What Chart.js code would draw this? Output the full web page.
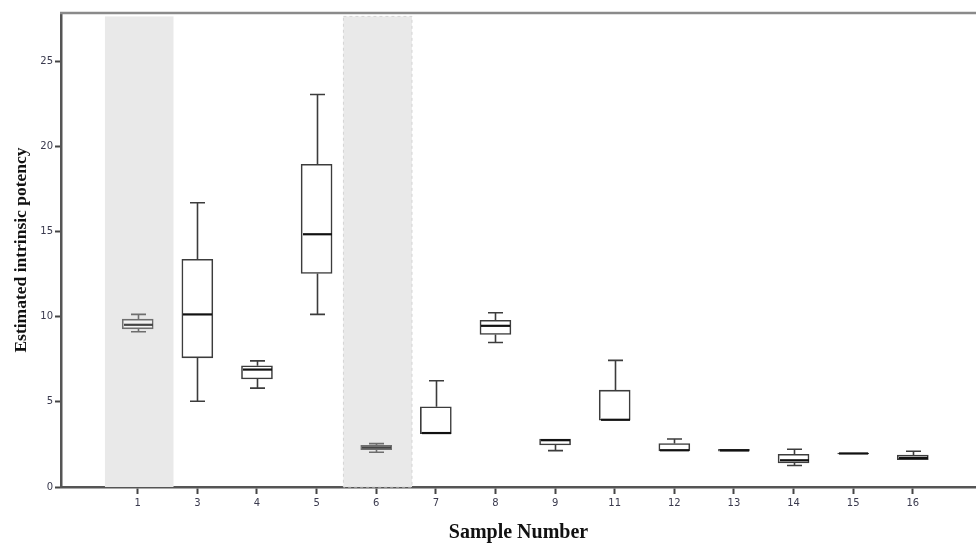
<!DOCTYPE html>
<html>
<head>
<meta charset="utf-8">
<script src="https://cdn.jsdelivr.net/npm/chart.js@4"></script>
<style>
  html, body { margin: 0; padding: 0; background: #fff; }
  #wrap { width: 976px; height: 543px; position: relative; }
</style>
</head>
<body>
<div id="wrap"><canvas id="chart"></canvas></div>
<script>
// box plot values per sample
const sampleLabels = ['1', '3', '4', '5', '6', '7', '8', '9', '11', '12', '13', '14', '15', '16'];
const whiskerLow  = [9.12, 5.04, 5.81, 10.14, 2.04, 3.14, 8.49, 2.14, 3.92, 2.12, 2.10, 1.26, 1.95, 1.61];
const q1          = [9.29, 7.59, 6.35, 12.55, 2.20, 3.14, 8.96, 2.47, 3.92, 2.12, 2.10, 1.41, 1.95, 1.61];
const median      = [9.53, 10.14, 6.90, 14.85, 2.32, 3.17, 9.47, 2.75, 3.95, 2.16, 2.15, 1.57, 1.97, 1.71];
const q3          = [9.86, 13.38, 7.12, 18.96, 2.45, 4.71, 9.80, 2.82, 5.69, 2.55, 2.21, 1.92, 2.00, 1.88];
const whiskerHigh = [10.14, 16.70, 7.41, 23.06, 2.55, 6.24, 10.24, 2.82, 7.44, 2.82, 2.21, 2.22, 2.00, 2.10];
const yTicks = [0, 5, 10, 15, 20, 25];
const shadedSamples = ['1', '6'];

const BOX_W = 31;
const CAP_W = 15;

const isShaded = i => shadedSamples.includes(sampleLabels[i]);

// grey bands behind samples 1 and 6, plus the top frame line
const bandsPlugin = {
  id: 'bands',
  beforeDatasetsDraw(chart) {
    const { ctx, chartArea, scales: { x, y } } = chart;
    ctx.save();
    sampleLabels.forEach((s, i) => {
      if (!isShaded(i)) return;
      const left = x.getPixelForValue(i - 0.55);
      const right = x.getPixelForValue(i + 0.6);
      const top = y.getPixelForValue(27.65);
      const bottom = chartArea.bottom;
      ctx.fillStyle = '#e9e9e9';
      ctx.fillRect(left, top, right - left, bottom - top);
      if (s === '6') {
        ctx.strokeStyle = '#d4d4d4';
        ctx.lineWidth = 1;
        ctx.setLineDash([3, 3]);
        ctx.strokeRect(left, top, right - left, bottom - top);
        ctx.setLineDash([]);
      }
    });
    ctx.restore();
  },
  afterDraw(chart) {
    const { ctx, chartArea } = chart;
    ctx.save();
    ctx.strokeStyle = '#8a8a8a';
    ctx.lineWidth = 2.5;
    ctx.beginPath();
    ctx.moveTo(chartArea.left - 1, chartArea.top);
    ctx.lineTo(chartArea.right, chartArea.top);
    ctx.stroke();
    ctx.restore();
  }
};

// whiskers, caps and medians on top of the floating bars
const whiskerPlugin = {
  id: 'whiskers',
  afterDatasetsDraw(chart) {
    const { ctx, scales: { x, y } } = chart;
    ctx.save();
    sampleLabels.forEach((s, i) => {
      const cx = Math.round(x.getPixelForValue(i)) + 0.5;
      const col = isShaded(i) ? '#6e6e6e' : '#3c3c3c';
      ctx.strokeStyle = col;
      ctx.lineWidth = 1.6;
      const yHi = y.getPixelForValue(whiskerHigh[i]);
      const yQ3 = y.getPixelForValue(q3[i]);
      const yQ1 = y.getPixelForValue(q1[i]);
      const yLo = y.getPixelForValue(whiskerLow[i]);
      ctx.beginPath();
      if (whiskerHigh[i] > q3[i]) {
        ctx.moveTo(cx, yQ3); ctx.lineTo(cx, yHi);
        ctx.moveTo(cx - CAP_W / 2, yHi); ctx.lineTo(cx + CAP_W / 2, yHi);
      }
      if (whiskerLow[i] < q1[i]) {
        ctx.moveTo(cx, yQ1); ctx.lineTo(cx, yLo);
        ctx.moveTo(cx - CAP_W / 2, yLo); ctx.lineTo(cx + CAP_W / 2, yLo);
      }
      ctx.stroke();
      ctx.strokeStyle = isShaded(i) ? '#444' : '#111';
      ctx.lineWidth = 2.2;
      const ym = y.getPixelForValue(median[i]);
      ctx.beginPath();
      ctx.moveTo(cx - BOX_W / 2 + 1, ym);
      ctx.lineTo(cx + BOX_W / 2 - 1, ym);
      ctx.stroke();
    });
    ctx.restore();
  }
};

const boxData = sampleLabels.map((s, i) => ({ x: i, y: [q1[i], q3[i]] }));

new Chart(document.getElementById('chart'), {
  type: 'bar',
  data: {
    datasets: [{
      data: boxData,
      backgroundColor: sampleLabels.map((s, i) => isShaded(i) ? '#f3f3f3' : '#ffffff'),
      borderColor: sampleLabels.map((s, i) => isShaded(i) ? '#6e6e6e' : '#3c3c3c'),
      borderWidth: 1.6,
      borderSkipped: false,
      barThickness: BOX_W
    }]
  },
  options: {
    responsive: true,
    maintainAspectRatio: false,
    animation: false,
    layout: { padding: { top: 13, right: 0, left: 0, bottom: 0 } },
    plugins: {
      legend: { display: false },
      tooltip: { enabled: false }
    },
    scales: {
      x: {
        type: 'linear',
        min: -1.287,
        max: 14.06,
        offset: false,
        afterBuildTicks: scale => {
          scale.ticks = sampleLabels.map((s, i) => ({ value: i }));
        },
        afterFit: scale => { scale.height = 56; },
        grid: {
          offset: false,
          drawOnChartArea: false,
          tickLength: 7,
          tickWidth: 2,
          tickColor: '#444'
        },
        border: { color: '#555', width: 2.5 },
        ticks: {
          autoSkip: false,
          maxRotation: 0,
          padding: 3,
          color: '#3a3a4e',
          font: { family: 'DejaVu Sans', size: 10 },
          callback: v => sampleLabels[v]
        },
        title: {
          display: true,
          text: 'Sample Number',
          color: '#111',
          font: { family: 'Liberation Serif', size: 20, weight: 'bold', lineHeight: 1 },
          padding: { top: 0, bottom: 0 }
        }
      },
      y: {
        min: 0,
        max: 27.85,
        afterBuildTicks: scale => {
          scale.ticks = yTicks.map(v => ({ value: v }));
        },
        afterFit: scale => { scale.width = 61; },
        grid: {
          drawOnChartArea: false,
          tickLength: 6,
          tickWidth: 2,
          tickColor: '#444'
        },
        border: { color: '#555', width: 2.5 },
        ticks: {
          padding: 2,
          color: '#3a3a4e',
          font: { family: 'DejaVu Sans', size: 10 }
        },
        title: {
          display: true,
          text: 'Estimated intrinsic potency',
          color: '#111',
          font: { family: 'Liberation Serif', size: 17.5, weight: 'bold', lineHeight: 1.2 },
          padding: { top: 11, bottom: 0 }
        }
      }
    }
  },
  plugins: [bandsPlugin, whiskerPlugin]
});
</script>
</body>
</html>
